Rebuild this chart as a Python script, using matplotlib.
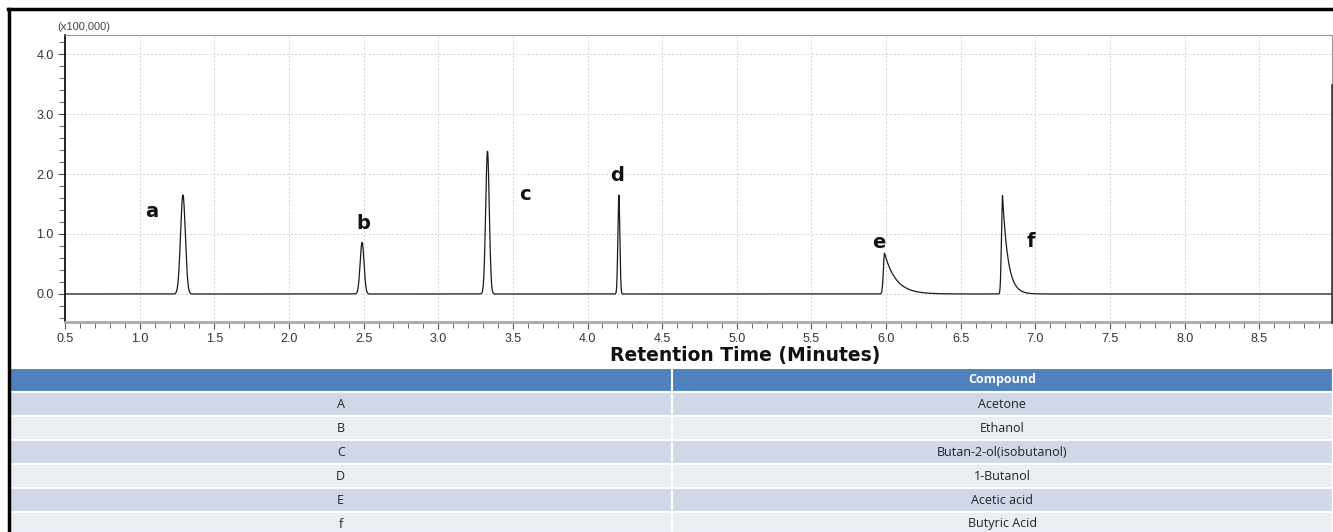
import numpy as np
import matplotlib.pyplot as plt
from matplotlib.lines import Line2D
from matplotlib.ticker import MultipleLocator

# peak data (x100,000 counts)
peak_labels = ['a', 'b', 'c', 'd', 'e', 'f']
peak_times = [1.29, 2.49, 3.33, 4.21, 5.99, 6.78]
peak_heights = [1.65, 0.86, 2.38, 1.65, 0.68, 1.65]
peak_sigma = [0.016, 0.013, 0.012, 0.0065, 0.008, 0.007]
peak_tail = [0.0, 0.0, 0.0, 0.0, 0.075, 0.036]   # exponential tailing (min)
label_x = [1.08, 2.50, 3.58, 4.20, 5.95, 6.97]
label_y = [1.37, 1.17, 1.65, 1.97, 0.85, 0.87]

table_keys = ['A', 'B', 'C', 'D', 'E', 'f']
table_compounds = ['Acetone', 'Ethanol', 'Butan-2-ol(isobutanol)', '1-Butanol',
                   'Acetic acid', 'Butyric Acid']

t = np.linspace(0.5, 9.0, 8000)
signal = np.zeros_like(t)
for mu, h, s, tau in zip(peak_times, peak_heights, peak_sigma, peak_tail):
    d = t - mu
    left = h * np.exp(-d**2 / (2 * s**2))
    if tau > 0:
        right = h * np.exp(-np.clip(d, 0, None) / tau)
    else:
        right = left
    signal += np.where(d < 0, left, right)

W, H = 1333, 532
fig = plt.figure(figsize=(W / 100, H / 100), dpi=100)
plt.rcParams['font.family'] = ['Liberation Sans', 'DejaVu Sans']

ax = fig.add_axes([65 / W, 1 - 322 / H, 1267 / W, 287 / H])
ax.plot(t, signal, color='#1a1a1a', lw=0.9)
ax.set_xlim(0.5, 8.987)
ax.set_ylim(-0.467, 4.317)

ax.xaxis.set_major_locator(MultipleLocator(0.5))
ax.xaxis.set_minor_locator(MultipleLocator(0.1))
ax.yaxis.set_major_locator(MultipleLocator(1.0))
ax.yaxis.set_minor_locator(MultipleLocator(0.2))
ax.set_xticks(np.arange(0.5, 8.6, 0.5))
ax.xaxis.set_major_formatter(plt.FormatStrFormatter('%.1f'))
ax.yaxis.set_major_formatter(plt.FormatStrFormatter('%.1f'))
ax.tick_params(which='major', length=5, color='#555555', labelsize=9,
               labelcolor='#333333', pad=3)
ax.tick_params(which='minor', length=4, color='#555555')
ax.grid(True, which='major', ls=(0, (2, 2)), color='#d4d4d4', lw=0.7)

ax.spines['left'].set_color('black')
ax.spines['left'].set_linewidth(1.2)
ax.spines['bottom'].set_color('#aaaaaa')
ax.spines['bottom'].set_linewidth(2)
ax.spines['top'].set_color('#999999')
ax.spines['right'].set_color('#999999')

for lab, lx, ly in zip(peak_labels, label_x, label_y):
    ax.text(lx, ly, lab, fontsize=14, fontweight='bold', family='DejaVu Sans',
            ha='center', va='center', color='#111111')

fig.text(57 / W, 1 - 27 / H, '(x100,000)', fontsize=8, color='#444444',
         va='center', ha='left')
fig.text(745 / W, 1 - 355 / H, 'Retention Time (Minutes)', fontsize=13.5,
         fontweight='bold', family='DejaVu Sans', ha='center', va='center',
         color='#111111')

# compound table (last row runs off the bottom edge, as in the source)
tax = fig.add_axes([10 / W, -4 / H, 1323 / W, 168 / H])
tax.set_axis_off()
cell_text = [['', 'Compound']] + [[k, c] for k, c in zip(table_keys, table_compounds)]
colors = [['#4f81bd', '#4f81bd']]
for i in range(len(table_keys)):
    c = '#d0d8e8' if i % 2 == 0 else '#e9edf4'
    colors.append([c, c])
tb = tax.table(cellText=cell_text, cellColours=colors, cellLoc='center',
               bbox=[0, 0, 1, 1])
tb.auto_set_font_size(False)
for (r, c), cell in tb.get_celld().items():
    cell.set_edgecolor('white')
    cell.set_linewidth(1.5)
    cell.get_text().set_fontsize(9)
    cell.get_text().set_family(['Open Sans', 'DejaVu Sans'])
    cell.get_text().set_color('#222222')
    if r == 0:
        cell.get_text().set_color('white')
        cell.get_text().set_fontweight('bold')

# outer frame
fig.add_artist(Line2D([8.5 / W, 8.5 / W], [0, 1 - 9 / H], color='black', lw=2.5))
fig.add_artist(Line2D([8 / W, 1], [1 - 9 / H, 1 - 9 / H], color='black', lw=2.5))
fig.add_artist(Line2D([1331.5 / W, 1331.5 / W], [1 - 322 / H, 1 - 85 / H],
                      color='#444444', lw=2))

fig.savefig('out.png', dpi=100)
